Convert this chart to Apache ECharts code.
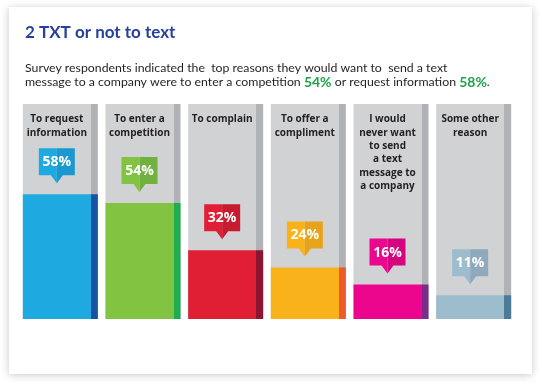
<!DOCTYPE html>
<html>
<head>
<meta charset="utf-8">
<script src="https://cdn.jsdelivr.net/npm/echarts@6/dist/echarts.min.js"></script>
<style>
html,body{margin:0;padding:0;background:#fff;}
#chart{width:542px;height:386px;}
</style>
</head>
<body>
<div id="chart"></div>
<script>
// ---- data ----
const categories = [
  'To request\ninformation',
  'To enter a\ncompetition',
  'To complain',
  'To offer a\ncompliment',
  'I would\nnever want\nto send\na text\nmessage to\na company',
  'Some other\nreason'
];
const values = [58, 54, 32, 24, 16, 11];
const fullScale = [100, 100, 100, 100, 100, 100];

// ---- styles ----
const mainColors  = ['#1fa9e1', '#82c342', '#e01f35', '#f9b21a', '#ec068d', '#9dbccd'];
const stripColors = ['#1355a3', '#1eae4f', '#8b1430', '#ef5828', '#7a2d89', '#4d7a96'];
const badgeDark   = ['#1b98cf', '#72b03f', '#c91b30', '#e5a41c', '#d4057e', '#8eaabc'];
const STRIP = 0.907;

function split(c1, c2) {
  return new echarts.graphic.LinearGradient(0, 0, 1, 0, [
    {offset: 0, color: c1}, {offset: STRIP, color: c1},
    {offset: STRIP, color: c2}, {offset: 1, color: c2}
  ]);
}

const chart = echarts.init(document.getElementById('chart'), null, {renderer: 'canvas'});

const subtext = 'Survey respondents indicated the  top reasons they would want to  send a text\n' +
  'message to a company were to enter a competition {g|' + values[1] + '%} or request information {g|' + values[0] + '%}.';

chart.setOption({
  animation: false,
  graphic: [{
    type: 'rect', z: -10, silent: true,
    shape: {x: 9, y: 7, width: 523, height: 367},
    style: {fill: '#fff', shadowBlur: 8, shadowColor: 'rgba(0,0,0,0.22)', shadowOffsetX: 0, shadowOffsetY: 1}
  }],
  title: {
    text: '2 TXT or not to text',
    left: 20, top: 19,
    textStyle: {fontFamily: 'Lato', fontWeight: 'bold', fontSize: 17, color: '#27409a'},
    subtext: subtext,
    itemGap: 20,
    subtextStyle: {
      fontFamily: 'Lato', fontSize: 12.3, color: '#231f20', lineHeight: 14,
      rich: {g: {fontFamily: 'Lato', fontSize: 14, fontWeight: 'bold', color: '#1fa34a', lineHeight: 14}}
    }
  },
  grid: {left: 19, right: 27, top: 104, bottom: 67},
  xAxis: {type: 'category', data: categories, show: false},
  yAxis: {type: 'value', min: 0, max: 100, show: false},
  series: [
    {
      type: 'bar', barWidth: 75, barGap: '-100%', z: 1,
      data: fullScale.map(v => ({value: v, itemStyle: {color: split('#d1d2d4', '#b1b2b6')}})),
      label: {
        show: true, position: 'insideTop', distance: 9, offset: [-3.5, 0],
        formatter: p => categories[p.dataIndex],
        fontFamily: 'Open Sans', fontWeight: 'bold', fontSize: 10, lineHeight: 13.3, color: '#231f20', align: 'center'
      },
      silent: true
    },
    {
      type: 'bar', barWidth: 75, barGap: '-100%', z: 2,
      data: values.map((v, i) => ({value: v, itemStyle: {color: split(mainColors[i], stripColors[i])}})),
      silent: true
    },
    {
      type: 'custom', z: 5,
      data: values.map((v, i) => [i, v]),
      renderItem: function (params, api) {
        const i = api.value(0), v = api.value(1);
        const p = api.coord([i, v]);
        const cx = p[0] - 3.5;
        const tipY = p[1] - 11;
        const hw = 18, bh = 27, th = 8, tw = 6;
        const by = tipY - th;
        const top = by - bh;
        return {
          type: 'group',
          children: [
            {type: 'polygon', shape: {points: [[cx - hw, top], [cx, top], [cx, tipY], [cx - tw, by], [cx - hw, by]]},
             style: {fill: mainColors[i]}},
            {type: 'polygon', shape: {points: [[cx, top], [cx + hw, top], [cx + hw, by], [cx + tw, by], [cx, tipY]]},
             style: {fill: badgeDark[i]}},
            {type: 'text', x: cx, y: top + bh / 2 + 0.5,
             style: {text: v + '%', fill: '#fff', fontFamily: 'Open Sans', fontWeight: 'bold', fontSize: 14,
                     align: 'center', verticalAlign: 'middle'}}
          ]
        };
      }
    }
  ]
});
</script>
</body>
</html>
